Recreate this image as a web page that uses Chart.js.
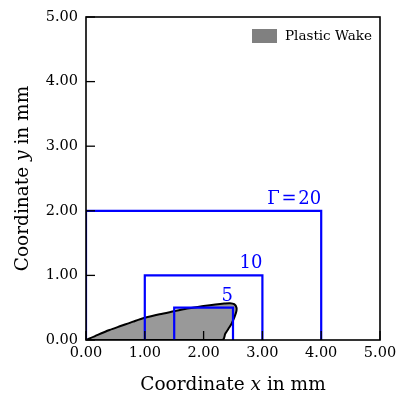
<!DOCTYPE html>
<html>
<head>
<meta charset="utf-8">
<script src="https://cdn.jsdelivr.net/npm/chart.js@4.4.0/dist/chart.umd.min.js"></script>
<style>
  html, body { margin: 0; padding: 0; background: #fff; }
  #wrap { width: 398px; height: 394px; }
</style>
</head>
<body>
<div id="wrap"><canvas id="wakeChart" width="398" height="394"></canvas></div>
<script>
// plastic wake outline (mm)
const wakeX = [0, 0.2, 0.4, 0.6, 0.8, 1.0, 1.25, 1.5, 1.75, 2.0, 2.2, 2.35, 2.45, 2.52, 2.56, 2.55, 2.48, 2.42, 2.37, 2.32, 0];
const wakeY = [0, 0.08, 0.155, 0.22, 0.285, 0.345, 0.4, 0.445, 0.49, 0.525, 0.55, 0.565, 0.57, 0.555, 0.5, 0.42, 0.26, 0.17, 0.1, 0, 0];

// integration paths for each Gamma
const gammaValues = [20, 10, 5];
const pathLeft = [0, 1, 1.5];
const pathRight = [4, 3, 2.5];
const pathHeight = [2, 1, 0.5];

const tickValues = [0, 1, 2, 3, 4, 5];

const serif = "'DejaVu Serif', serif";

const datasets = [];

// wake shape (drawn underneath the paths)
datasets.push({
    label: 'Plastic Wake',
    data: wakeX.map((x, i) => ({ x: x, y: wakeY[i] })),
    showLine: true,
    fill: 'shape',
    backgroundColor: '#999999',
    borderColor: '#000000',
    borderWidth: 2,
    tension: 0.3,
    pointRadius: 0,
    order: 10
});

// rectangular paths
gammaValues.forEach((g, i) => {
    datasets.push({
        label: 'Gamma ' + g,
        data: [
            { x: pathLeft[i], y: 0 },
            { x: pathLeft[i], y: pathHeight[i] },
            { x: pathRight[i], y: pathHeight[i] },
            { x: pathRight[i], y: 0 }
        ],
        showLine: true,
        fill: false,
        borderColor: '#0000ff',
        borderWidth: 2.2,
        tension: 0,
        pointRadius: 0,
        order: 1
    });
});

// draw text pieces with mixed upright / italic fonts, centred at (cx, y)
function drawMixed(ctx, parts, cx, y, size) {
    let total = 0;
    parts.forEach(p => {
        ctx.font = (p.it ? 'italic ' : '') + size + 'px ' + serif;
        total += ctx.measureText(p.t).width;
    });
    let x = cx - total / 2;
    parts.forEach(p => {
        ctx.font = (p.it ? 'italic ' : '') + size + 'px ' + serif;
        ctx.fillText(p.t, x, y);
        x += ctx.measureText(p.t).width;
    });
}

// frame, inward ticks, path labels, axis titles and legend
const decorPlugin = {
    id: 'decor',
    afterDraw(chart) {
        const ctx = chart.ctx;
        const area = chart.chartArea;
        const xs = chart.scales.x;
        const ys = chart.scales.y;
        ctx.save();

        // Gamma labels
        ctx.fillStyle = '#0000ff';
        ctx.font = '18px ' + serif;
        ctx.textAlign = 'right';
        ctx.textBaseline = 'alphabetic';
        gammaValues.forEach((g, i) => {
            const txt = i === 0 ? '\u0393\u200A=\u200A' + g : String(g);
            ctx.fillText(txt, xs.getPixelForValue(pathRight[i]), ys.getPixelForValue(pathHeight[i]) - 7);
        });

        // ticks (inward)
        ctx.strokeStyle = '#000';
        ctx.lineWidth = 1.3;
        tickValues.forEach(v => {
            const px = xs.getPixelForValue(v);
            ctx.beginPath();
            ctx.moveTo(px, area.bottom);
            ctx.lineTo(px, area.bottom - 9);
            ctx.stroke();
            const py = ys.getPixelForValue(v);
            ctx.beginPath();
            ctx.moveTo(area.left, py);
            ctx.lineTo(area.left + 9, py);
            ctx.stroke();
        });

        // frame
        ctx.lineWidth = 1.6;
        ctx.strokeRect(area.left, area.top, area.right - area.left, area.bottom - area.top);

        // legend
        ctx.fillStyle = '#808080';
        ctx.fillRect(area.right - 128, area.top + 12, 25, 14);
        ctx.fillStyle = '#000';
        ctx.font = '13.5px ' + serif;
        ctx.textAlign = 'left';
        ctx.textBaseline = 'middle';
        ctx.fillText('Plastic Wake', area.right - 95, area.top + 19.5);

        // axis titles
        ctx.textAlign = 'left';
        ctx.textBaseline = 'alphabetic';
        drawMixed(ctx, [{ t: 'Coordinate ' }, { t: 'x', it: true }, { t: ' in mm' }],
            (area.left + area.right) / 2, 390, 18.5);
        ctx.translate(28, (area.top + area.bottom) / 2);
        ctx.rotate(-Math.PI / 2);
        drawMixed(ctx, [{ t: 'Coordinate ' }, { t: 'y', it: true }, { t: ' in mm' }], 0, 0, 18.5);

        ctx.restore();
    }
};

new Chart(document.getElementById('wakeChart').getContext('2d'), {
    type: 'scatter',
    data: { datasets: datasets },
    options: {
        responsive: false,
        animation: false,
        layout: { padding: { left: 10, right: 18, top: 17, bottom: 0 } },
        plugins: {
            legend: { display: false },
            tooltip: { enabled: false }
        },
        scales: {
            x: {
                type: 'linear',
                min: 0,
                max: 5,
                afterFit: function (scale) {
                    scale.height = 54;
                    scale.paddingLeft = 0;
                    scale.paddingRight = 0;
                },
                grid: { display: false, drawTicks: false },
                border: { display: false },
                ticks: {
                    stepSize: 1,
                    padding: 5,
                    maxRotation: 0,
                    color: '#000',
                    font: { family: serif, size: 14.5 },
                    callback: v => v.toFixed(2)
                }
            },
            y: {
                type: 'linear',
                min: 0,
                max: 5,
                afterFit: function (scale) { scale.width = 76; },
                grid: { display: false, drawTicks: false },
                border: { display: false },
                ticks: {
                    stepSize: 1,
                    padding: 8,
                    color: '#000',
                    font: { family: serif, size: 14.5 },
                    callback: v => v.toFixed(2)
                }
            }
        }
    },
    plugins: [decorPlugin]
});
</script>
</body>
</html>
